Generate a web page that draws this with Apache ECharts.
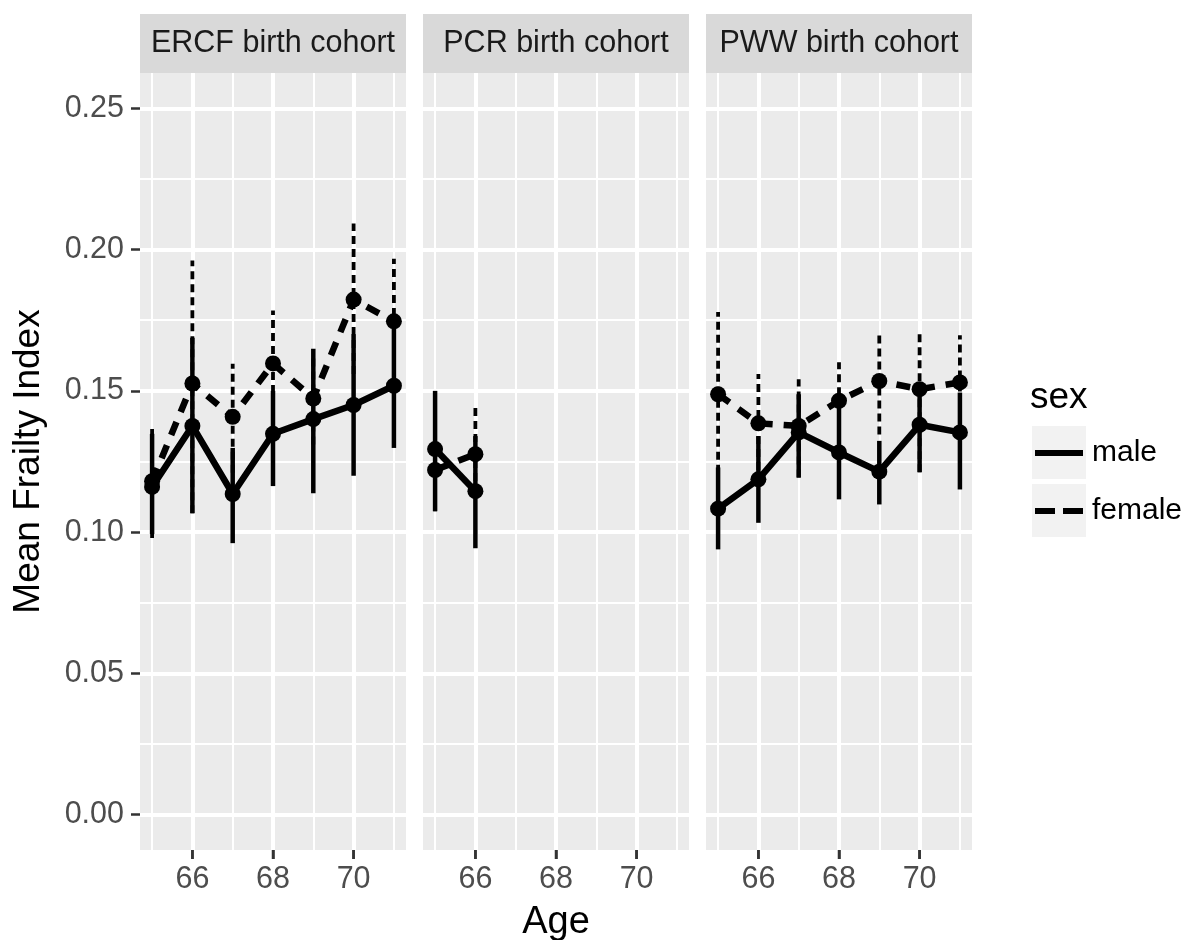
<!DOCTYPE html>
<html>
<head>
<meta charset="utf-8">
<script src="https://cdn.jsdelivr.net/npm/echarts@6/dist/echarts.min.js"></script>
<style>
html,body{margin:0;padding:0;background:#fff;}
#chart{width:1187px;height:940px;}
</style>
</head>
<body>
<div id="chart"></div>
<script>
// ---------- data ----------
const cohorts = ['ERCF birth cohort', 'PCR birth cohort', 'PWW birth cohort'];
const sexes = ['male', 'female'];
const xTickLabels = [66, 68, 70];
const xMinorValues = [65, 67, 69, 71];
const yTickLabels = [0, 0.05, 0.10, 0.15, 0.20, 0.25];
const yMinorValues = [0.025, 0.075, 0.125, 0.175, 0.225];

const ercfAges = [65, 66, 67, 68, 69, 70, 71];
const ercfMaleMean = [0.116, 0.1376, 0.1135, 0.1348, 0.1400, 0.1450, 0.1518];
const ercfMaleLo   = [0.0993, 0.1067, 0.0961, 0.1163, 0.1138, 0.1200, 0.1298];
const ercfMaleHi   = [0.1348, 0.1688, 0.1298, 0.1500, 0.1649, 0.1700, 0.1720];
const ercfFemaleMean = [0.118, 0.1526, 0.1408, 0.1597, 0.1473, 0.1823, 0.1746];
const ercfFemaleLo   = [0.0979, 0.1067, 0.1210, 0.1400, 0.1310, 0.1560, 0.1535];
const ercfFemaleHi   = [0.1365, 0.1961, 0.1596, 0.1784, 0.1630, 0.2092, 0.1968];

const pcrAges = [65, 66];
const pcrMaleMean = [0.1294, 0.1145];
const pcrMaleLo   = [0.1074, 0.0943];
const pcrMaleHi   = [0.1500, 0.1340];
const pcrFemaleMean = [0.1220, 0.1276];
const pcrFemaleLo   = [0.1074, 0.1135];
const pcrFemaleHi   = [0.1370, 0.1447];

const pwwAges = [65, 66, 67, 68, 69, 70, 71];
const pwwMaleMean = [0.1083, 0.1187, 0.1353, 0.1282, 0.1214, 0.1380, 0.1353];
const pwwMaleLo   = [0.0939, 0.1033, 0.1193, 0.1116, 0.1098, 0.1212, 0.1151];
const pwwMaleHi   = [0.1229, 0.1340, 0.1488, 0.1453, 0.1323, 0.1525, 0.1494];
const pwwFemaleMean = [0.1488, 0.1385, 0.1376, 0.1465, 0.1535, 0.1506, 0.1530];
const pwwFemaleLo   = [0.1210, 0.1220, 0.1193, 0.1300, 0.1346, 0.1212, 0.1360];
const pwwFemaleHi   = [0.1779, 0.1560, 0.1541, 0.1601, 0.1714, 0.1702, 0.1697];

const panels = [
  {ages: ercfAges, male: [ercfMaleMean, ercfMaleLo, ercfMaleHi], female: [ercfFemaleMean, ercfFemaleLo, ercfFemaleHi]},
  {ages: pcrAges, male: [pcrMaleMean, pcrMaleLo, pcrMaleHi], female: [pcrFemaleMean, pcrFemaleLo, pcrFemaleHi]},
  {ages: pwwAges, male: [pwwMaleMean, pwwMaleLo, pwwMaleHi], female: [pwwFemaleMean, pwwFemaleLo, pwwFemaleHi]}
];

// ---------- layout / style ----------
const FONT = "'Liberation Sans', Arial, sans-serif";
const panelLeft = [140, 423, 706];
const panelW = 266, panelTop = 73, panelH = 777;
const xMin = 64.7, xMax = 71.3, yMin = -0.0125, yMax = 0.2625;
const TICK_LEN = 9;

const grids = [], xAxes = [], yAxes = [], series = [], graphics = [];

panels.forEach((p, g) => {
  grids.push({left: panelLeft[g], top: panelTop, width: panelW, height: panelH,
    show: true, backgroundColor: '#EBEBEB', borderWidth: 0, outerBoundsMode: 'none'});
  // major x
  xAxes.push({type: 'value', gridIndex: g, min: xMin, max: xMax, position: 'bottom',
    axisLine: {show: false, onZero: false},
    axisTick: {show: true, customValues: xTickLabels, length: TICK_LEN, lineStyle: {color: '#333333', width: 2.5}},
    axisLabel: {show: true, customValues: xTickLabels, color: '#4D4D4D', fontSize: 30.5, fontFamily: FONT, margin: 14},
    splitLine: {show: true, lineStyle: {color: '#FFFFFF', width: 4}},
    name: g === 1 ? 'Age' : '', nameLocation: 'middle', nameGap: 54,
    nameTextStyle: {color: '#000', fontSize: 38, fontFamily: FONT}
  });
  // minor x (grid lines only)
  xAxes.push({type: 'value', gridIndex: g, min: xMin, max: xMax, position: 'top',
    axisLine: {show: false, onZero: false},
    axisTick: {show: false, customValues: xMinorValues},
    axisLabel: {show: false, customValues: xMinorValues},
    splitLine: {show: true, lineStyle: {color: '#FFFFFF', width: 2}}
  });
  // major y
  yAxes.push({type: 'value', gridIndex: g, min: yMin, max: yMax, position: 'left',
    axisLine: {show: false, onZero: false},
    axisTick: {show: g === 0, customValues: yTickLabels, length: TICK_LEN, lineStyle: {color: '#333333', width: 2.5}},
    axisLabel: {show: g === 0, customValues: yTickLabels, color: '#4D4D4D', fontSize: 30.5, fontFamily: FONT, margin: 16,
      formatter: v => Number(v).toFixed(2)},
    splitLine: {show: true, lineStyle: {color: '#FFFFFF', width: 4}},
    name: g === 0 ? 'Mean Frailty Index' : '', nameLocation: 'middle', nameRotate: 90, nameGap: 93,
    nameTextStyle: {color: '#000', fontSize: 37, fontFamily: FONT}
  });
  // minor y (grid lines only)
  yAxes.push({type: 'value', gridIndex: g, min: yMin, max: yMax, position: 'right',
    axisLine: {show: false, onZero: false},
    axisTick: {show: false, customValues: yMinorValues},
    axisLabel: {show: false, customValues: yMinorValues},
    splitLine: {show: true, lineStyle: {color: '#FFFFFF', width: 2}}
  });

  // strip
  graphics.push({type: 'rect', left: panelLeft[g], top: 14, shape: {width: panelW, height: 59},
    style: {fill: '#D9D9D9'}, z: 0});
  graphics.push({type: 'text', x: panelLeft[g] + panelW / 2, y: 44,
    style: {text: cohorts[g], fill: '#1A1A1A', font: '30.5px ' + FONT, textAlign: 'center', textVerticalAlign: 'middle'}, z: 1});

  const xi = g * 2, yi = g * 2;

  // x-axis tick marks at the panel's bottom edge (same place as the axis ticks)
  series.push({
    type: 'custom', xAxisIndex: xi, yAxisIndex: yi, clip: false, z: 10,
    encode: {x: 0, y: 1},
    data: xTickLabels.map(v => [v, yMin]),
    renderItem: (params, api) => {
      const c = api.coord([api.value(0), api.value(1)]);
      return {type: 'line', shape: {x1: c[0], y1: c[1], x2: c[0], y2: c[1] + TICK_LEN},
        style: {stroke: '#333333', lineWidth: 2.5}};
    }
  });

  sexes.forEach(sex => {
    const arr = p[sex];
    const isMale = sex === 'male';
    series.push({
      type: 'custom', name: sex, xAxisIndex: xi, yAxisIndex: yi,
      encode: {x: 0, y: [1, 2]},
      data: p.ages.map((a, i) => [a, arr[1][i], arr[2][i]]),
      renderItem: (params, api) => {
        const p1 = api.coord([api.value(0), api.value(1)]);
        const p2 = api.coord([api.value(0), api.value(2)]);
        return {type: 'line', shape: {x1: p1[0], y1: p1[1], x2: p2[0], y2: p2[1]},
          style: {stroke: '#000', lineWidth: isMale ? 4.5 : 3.8, lineDash: isMale ? null : [8, 5]}};
      },
      z: isMale ? 2 : 3, silent: true
    });
    series.push({
      type: 'line', name: sex, xAxisIndex: xi, yAxisIndex: yi,
      data: p.ages.map((a, i) => [a, arr[0][i]]),
      symbol: 'circle', symbolSize: 16, showSymbol: true,
      itemStyle: {color: '#000'},
      lineStyle: {color: '#000', width: 6.5, type: isMale ? 'solid' : [14, 11]},
      z: isMale ? 4 : 5, silent: true
    });
  });
});

// legend key backgrounds and title
graphics.push({type: 'text', x: 1030, y: 398,
  style: {text: 'sex', fill: '#000', font: '37px ' + FONT, textAlign: 'left', textVerticalAlign: 'middle'}});
graphics.push({type: 'rect', left: 1032, top: 426, shape: {width: 54, height: 53}, style: {fill: '#F2F2F2'}, z: 0});
graphics.push({type: 'rect', left: 1032, top: 484, shape: {width: 54, height: 53}, style: {fill: '#F2F2F2'}, z: 0});

const option = {
  animation: false,
  backgroundColor: '#FFFFFF',
  grid: grids,
  xAxis: xAxes,
  yAxis: yAxes,
  legend: {
    orient: 'vertical', left: 1035, top: 436, padding: 0,
    itemWidth: 48, itemHeight: 6, itemGap: 24,
    selectedMode: false,
    itemStyle: {color: '#000', borderWidth: 0},
    textStyle: {color: '#000', fontSize: 30, fontFamily: FONT, lineHeight: 34, padding: [0, 0, 0, 4]},
    data: [
      {name: 'male', icon: 'path://M0,0H48V6H0Z'},
      {name: 'female', icon: 'path://M0,0H20V6H0Z M28,0H48V6H28Z'}
    ]
  },
  graphic: graphics,
  series: series
};

const chart = echarts.init(document.getElementById('chart'), null, {renderer: 'canvas'});
chart.setOption(option);
</script>
</body>
</html>
